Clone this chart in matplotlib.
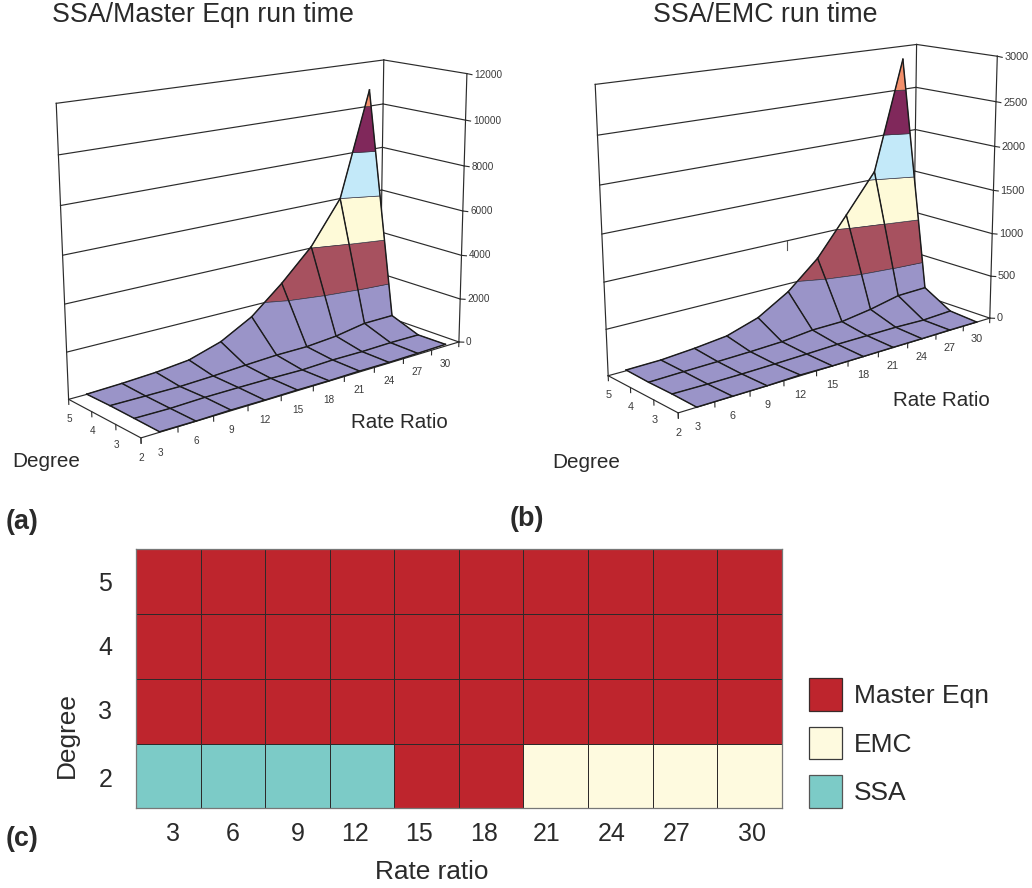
"""Run-time surfaces for SSA vs Master Eqn / EMC, plus the method-choice grid."""
import numpy as np
import matplotlib

matplotlib.use("Agg")
import matplotlib.pyplot as plt
from matplotlib.colors import ListedColormap
from matplotlib.lines import Line2D
from matplotlib.patches import Patch
from mpl_toolkits.mplot3d import proj3d
from mpl_toolkits.mplot3d.art3d import Poly3DCollection

plt.rcParams["font.family"] = ["Liberation Sans", "DejaVu Sans"]

W, H = 1032, 888
INK = "#2b2b2b"
TEXT = "#2a2a2a"

rate_ratio = [3, 6, 9, 12, 15, 18, 21, 24, 27, 30]
degree = [2, 3, 4, 5]

# run time ratios, one list per degree
master_d2 = [20, 10, 30, 20, 30, 20, 40, 30, 50, 80]
master_d3 = [30, 10, 50, 50, 40, 10, 60, 50, 80, 70]
master_d4 = [36, 20, 10, 60, 140, 200, 200, 310, 540, 550]
master_d5 = [10, 60, 140, 290, 730, 1500, 2690, 4060, 6000, 10730]

emc_d2 = [1, 1, 1, 8, 1, 1, 2, 1, 3, 1]
emc_d3 = [6, 1, 1, 5, 12, 20, 20, 20, 9, 24]
emc_d4 = [2, 9, 14, 21, 33, 69, 71, 122, 195, 203]
emc_d5 = [9, 14, 42, 83, 197, 408, 714, 1146, 1590, 2849]

master_ticks = [0, 2000, 4000, 6000, 8000, 10000, 12000]
emc_ticks = [0, 500, 1000, 1500, 2000, 2500, 3000]

band_colors = ["#9A94C8", "#A7515F", "#FEFAD8", "#C3E9F9", "#80285B", "#F28F6B"]

# best method per cell (0 SSA, 1 EMC, 2 Master Eqn), rows are degree 2..5
method_names = ["Master Eqn", "EMC", "SSA"]
method_colors = ["#7CCBC7", "#FEFADF", "#BE252D"]
best_d2 = [0, 0, 0, 0, 2, 2, 1, 1, 1, 1]
best_d3 = [2, 2, 2, 2, 2, 2, 2, 2, 2, 2]
best_d4 = [2, 2, 2, 2, 2, 2, 2, 2, 2, 2]
best_d5 = [2, 2, 2, 2, 2, 2, 2, 2, 2, 2]

# hand placed labels of panel (c)
c_xtick_pos = [3.2, 6.0, 9.03, 11.67, 14.65, 17.67, 20.58, 23.6, 26.64, 30.1]
c_ytick_pos = [1.97, 3.02, 4.01, 5.01]


def clip_z(poly, lo, hi):
    """Cut a 3D polygon down to the part with lo <= z <= hi."""
    for level, keep_above in ((lo, True), (hi, False)):
        out = []
        for i in range(len(poly)):
            a, b = np.array(poly[i]), np.array(poly[(i + 1) % len(poly)])
            a_in = a[2] >= level if keep_above else a[2] <= level
            b_in = b[2] >= level if keep_above else b[2] <= level
            if a_in:
                out.append(a)
            if a_in != b_in:
                out.append(a + (b - a) * (level - a[2]) / (b[2] - a[2]))
        poly = out
        if len(poly) < 3:
            return []
    return poly


def surface_panel(rows, ticks, view, scale, tx, ty, font_size):
    elev, azim, focal, b, c, roll = view
    # axes rectangle worked out from where the box has to land in the picture
    left, width = tx - scale * 0.095, scale * 0.185
    bottom = ty + scale * 0.095
    ax = fig.add_axes([left / W, 1 - bottom / H, width / W, width / H], projection="3d",
                      computed_zorder=False)
    ax.set_proj_type("persp", focal_length=focal)
    ax.view_init(elev, azim, roll)
    ax.set_box_aspect((1, b, c))
    ax.set_axis_off()

    xmin, xmax = rate_ratio[0] - 1.5, rate_ratio[-1] + 1.5
    ymin, ymax = degree[0], degree[-1]
    zmax = ticks[-1]
    Z = np.array(rows, float)

    ax.set_xlim(xmin, xmax, view_margin=0)
    ax.set_ylim(ymin, ymax, view_margin=0)
    ax.set_zlim(0, zmax, view_margin=0)
    # the built-in axes stay hidden, the ticks below replace them
    ax.set_xticks([])
    ax.set_yticks([])
    ax.set_zticks([])
    proj = ax.get_proj()

    def label_at(x, y, z, s, ha="center"):
        xp, yp, _ = proj3d.proj_transform(x, y, z, proj)
        ax.text2D(xp, yp, s, transform=ax.transData, fontsize=font_size, color="#3a3a3a",
                  ha=ha, va="center")

    # --- walls and floor ---------------------------------------------------
    wall = dict(color=INK, lw=0.85, zorder=1)
    for z in ticks:
        ax.plot([xmin, xmax], [ymax, ymax], [z, z], **wall)
        ax.plot([xmax, xmax], [ymax, ymin], [z, z], **wall)
    for x, y in ((xmin, ymax), (xmax, ymax), (xmax, ymin)):
        ax.plot([x, x], [y, y], [0, zmax], **wall)
    ax.plot([xmin, xmin, xmax], [ymax, ymin, ymin], [0, 0, 0], **wall)

    # --- surface, cut into the colour bands --------------------------------
    polys, colors = [], []
    edges = ticks + [np.inf]
    for j in range(len(degree) - 1):
        for i in range(len(rate_ratio) - 1):
            quad = [(rate_ratio[i], degree[j], Z[j, i]),
                    (rate_ratio[i + 1], degree[j], Z[j, i + 1]),
                    (rate_ratio[i + 1], degree[j + 1], Z[j + 1, i + 1]),
                    (rate_ratio[i], degree[j + 1], Z[j + 1, i])]
            for k in range(len(band_colors)):
                part = clip_z(quad, edges[k], edges[k + 1])
                if part:
                    polys.append(part)
                    colors.append(band_colors[k])
    ax.add_collection3d(Poly3DCollection(polys, facecolors=colors, edgecolors="#33303f",
                                         linewidths=0.45, zorder=2))

    grid = dict(color="#1c1c1c", lw=1.05, zorder=3)
    for j, d in enumerate(degree):
        ax.plot(rate_ratio, [d] * len(rate_ratio), Z[j], **grid)
    for i, r in enumerate(rate_ratio):
        ax.plot([r] * len(degree), degree, Z[:, i], **grid)

    # --- ticks and labels --------------------------------------------------
    tick = dict(color=INK, lw=0.8, zorder=1)
    drop = 0.018 * zmax
    below = 0.069 * zmax
    for x in [xmin + 3 * n for n in range(len(rate_ratio) + 1)]:
        ax.plot([x, x], [ymin, ymin], [0, -drop], **tick)
    for r in rate_ratio:
        label_at(r, ymin, -below, str(r))
    for d in degree:
        ax.plot([xmin, xmin], [d, d], [0, -drop], **tick)
        label_at(xmin, d, -below, str(d))
    for z in ticks:
        ax.plot([xmax, xmax + 0.55], [ymin, ymin], [z, z - 0.0065 * zmax], **tick)
        label_at(xmax + 0.8, ymin, z - 0.0075 * zmax, str(z), ha="left")
    return ax


def put_text(x, y, s, **kw):
    kw.setdefault("color", TEXT)
    kw.setdefault("va", "center")
    fig.text(x / W, 1 - y / H, s, **kw)


fig = plt.figure(figsize=(W / 100, H / 100), dpi=100)

surface_panel([master_d2, master_d3, master_d4, master_d5], master_ticks,
              (15.0218, -129.1052, 0.5492, 0.3009, 0.7046, 0.2257), 2732.96, 273.27, 231.96, 7.2)
surface_panel([emc_d2, emc_d3, emc_d4, emc_d5], emc_ticks,
              (14.5471, -129.3019, 0.5191, 0.2958, 0.7009, 0.3274), 2678.93, 808.86, 210.95, 7.8)

# stray mark sitting on the wall of panel (b)
fig.add_artist(Line2D([787.3 / W, 787.3 / W], [1 - 241.5 / H, 1 - 250 / H], color="#555555", lw=0.8))

# --- panel (c) -------------------------------------------------------------
ax_c = fig.add_axes([136 / W, 1 - 808.3 / H, 645.7 / W, 259 / H])
x_edges = np.arange(1.5, 32, 3)
y_edges = np.arange(1.5, 6, 1)
cells = np.array([best_d2, best_d3, best_d4, best_d5])
ax_c.pcolormesh(x_edges, y_edges, cells, cmap=ListedColormap(method_colors), vmin=0, vmax=2,
                edgecolors="#2e2a2a", linewidth=0.7)
ax_c.set_xticks(c_xtick_pos, [str(r) for r in rate_ratio])
ax_c.set_yticks(c_ytick_pos, [str(d) for d in degree])
ax_c.tick_params(length=0, labelsize=18, labelcolor=TEXT)
ax_c.tick_params(axis="x", pad=10)
ax_c.tick_params(axis="y", pad=17)
for spine in ax_c.spines.values():
    spine.set_color("#777777")
    spine.set_linewidth(0.9)

handles = [Patch(facecolor=method_colors[2], edgecolor="#3a2a2a", lw=0.9),
           Patch(facecolor=method_colors[1], edgecolor="#3a3a3a", lw=0.9),
           Patch(facecolor=method_colors[0], edgecolor="#555555", lw=0.9)]
fig.legend(handles, method_names, loc="upper left", bbox_to_anchor=(809 / W, 1 - 678.3 / H),
           frameon=False, fontsize=19, labelcolor=TEXT, borderpad=0, borderaxespad=0,
           handlelength=1.24, handleheight=1.53, labelspacing=0.59, handletextpad=0.47)

# --- text ------------------------------------------------------------------
put_text(52, 15, "SSA/Master Eqn run time", fontsize=19.3)
put_text(653, 15, "SSA/EMC run time", fontsize=19.3)
put_text(12, 461, "Degree", fontsize=14.9)
put_text(351, 423, "Rate Ratio", fontsize=14.8)
put_text(552, 462, "Degree", fontsize=14.9)
put_text(893, 400, "Rate Ratio", fontsize=14.8)
put_text(6, 522, "(a)", fontsize=19.4, fontweight="bold")
put_text(510, 519, "(b)", fontsize=19.4, fontweight="bold")
put_text(6, 839, "(c)", fontsize=19.4, fontweight="bold")
put_text(432, 872, "Rate ratio", fontsize=18.9, ha="center")
put_text(67, 735, "Degree", fontsize=18.9, rotation=90, ha="center")

fig.savefig("out.png", dpi=100)
